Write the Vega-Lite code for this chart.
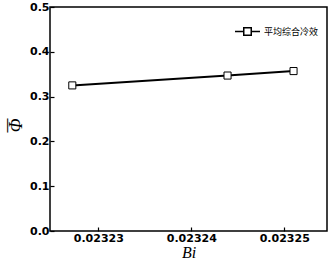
{
  "$schema": "https://vega.github.io/schema/vega-lite/v6.json",
  "width": 277,
  "height": 224,
  "autosize": "none",
  "padding": {"left": 50, "top": 7, "right": 2, "bottom": 39},
  "background": "white",
  "config": {
    "view": {"stroke": "black", "strokeWidth": 1.5},
    "axis": {"grid": false, "domain": false, "tickColor": "black", "tickSize": -4, "tickWidth": 1.2,
             "labelColor": "black", "titleColor": "black"}
  },
  "data": {"values": [
    {"Bi": 0.0232272, "phi": 0.325, "series": "平均综合冷效"},
    {"Bi": 0.0232439, "phi": 0.347, "series": "平均综合冷效"},
    {"Bi": 0.0232510, "phi": 0.357, "series": "平均综合冷效"}
  ]},
  "encoding": {
    "x": {"field": "Bi", "type": "quantitative",
          "scale": {"domain": [0.0232248, 0.0232546], "zero": false, "nice": false},
          "axis": {"values": [0.02323, 0.02324, 0.02325], "format": ".5f", "labelPadding": 5,
                   "labelFont": "DejaVu Sans", "labelFontWeight": "bold", "labelFontSize": 11,
                   "title": "Bi", "titleFont": "Liberation Serif", "titleFontStyle": "italic", "titleFontWeight": "normal", "titleFontSize": 16, "titlePadding": 1}}
  },
  "layer": [
    {
      "mark": {"type": "line", "strokeWidth": 2, "point": {"shape": "square", "filled": false, "fill": "white", "strokeWidth": 1, "size": 50}},
      "encoding": {
        "y": {"field": "phi", "type": "quantitative",
              "scale": {"domain": [0, 0.5], "nice": false},
              "axis": {"values": [0, 0.1, 0.2, 0.3, 0.4, 0.5], "format": ".1f", "labelPadding": 5,
                       "labelFont": "DejaVu Sans", "labelFontWeight": "bold", "labelFontSize": 11,
                       "title": "Φ", "titleFont": "Liberation Serif", "titleFontStyle": "italic", "titleFontWeight": "normal", "titleFontSize": 18,
                       "titleAngle": -90, "titleX": -34, "titleY": 118, "titleBaseline": "middle", "titleAlign": "center"}},
        "stroke": {"field": "series", "type": "nominal", "scale": {"range": ["black"]},
                  "legend": {"title": null, "orient": "none", "legendX": 184, "legendY": 11,
                             "symbolType": "M-1,0H-0.3M0.3,0H1M-0.3,-0.3H0.3V0.3H-0.3Z", "symbolSize": 625,
                             "symbolFillColor": "white", "symbolStrokeColor": "black", "symbolStrokeWidth": 1.5,
                             "labelFont": "Noto Sans CJK SC", "labelFontSize": 9, "labelColor": "black", "labelOffset": 3}}
      }
    },
    {
      "mark": {"type": "point", "opacity": 0},
      "encoding": {
        "y": {"field": "phi", "type": "quantitative",
              "scale": {"domain": [0, 0.5], "nice": false},
              "axis": {"orient": "right", "labels": false, "ticks": false, "domain": false,
                       "title": "—", "titleColor": "black", "titleFont": "Liberation Serif", "titleFontWeight": "bold", "titleFontSize": 14,
                       "titleAngle": -90, "titleX": -321, "titleY": 118, "titleBaseline": "middle", "titleAlign": "center"}}
      }
    }
  ],
  "resolve": {"axis": {"y": "independent"}}
}
